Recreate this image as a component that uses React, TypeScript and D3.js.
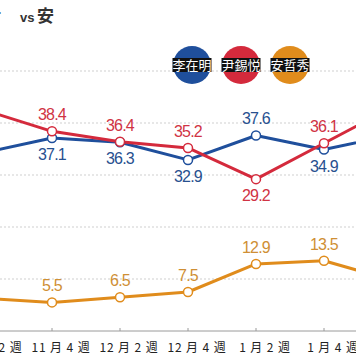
import React from "react";
import * as d3 from "d3";

const weeks = ["11 月 2 週", "11 月 4 週", "12 月 2 週", "12 月 4 週", "1 月 2 週", "1 月 4 週", "2 月 2 週"];
const leeValues = [34.3, 37.1, 36.3, 32.9, 37.6, 34.9, 37.7];
const yoonValues = [42.5, 38.4, 36.4, 35.2, 29.2, 36.1, 43.0];
const ahnValues = [6.3, 5.5, 6.5, 7.5, 12.9, 13.5, 9.8];
const gridValues = [10, 20, 30, 40, 50];
const legendNames = ["李在明", "尹錫悦", "安哲秀"];
// label placement: true = above the point
const leeAbove = [false, false, false, false, true, false, false];
const yoonAbove = [true, true, true, true, false, true, true];
const ahnAbove = [true, true, true, true, true, true, true];

const W = 356;
const H = 364;

const BLUE = "#1f4f9c";
const RED = "#d42a3c";
const ORANGE = "#e08c1c";

export default function App() {
  const x = d3.scalePoint<string>().domain(weeks).range([-16, 392]);
  const y = d3.scaleLinear().domain([0, 50]).range([331, 71]);

  const series = [
    { name: legendNames[0], values: leeValues, above: leeAbove, color: BLUE, label: "#27508f" },
    { name: legendNames[1], values: yoonValues, above: yoonAbove, color: RED, label: "#d03344" },
    { name: legendNames[2], values: ahnValues, above: ahnAbove, color: ORANGE, label: "#cf8f35" },
  ];

  const line = d3
    .line<number>()
    .x((_, i) => x(weeks[i]) as number)
    .y((d) => y(d));

  const legendX = [192, 241, 290];

  return (
    <svg
      width={W}
      height={H}
      style={{ position: "absolute", left: 0, top: 0, background: "#fff" }}
      fontFamily="'Noto Sans CJK KR', 'Noto Sans', sans-serif"
    >
      {/* title fragment */}
      <text y={22} fontSize={17} fontWeight="bold" fill="#333">
        <tspan x={1} textAnchor="end">尹</tspan>
        <tspan x={20} fontFamily="'Liberation Sans', sans-serif" fontSize={13}>vs</tspan>
        <tspan x={37}>安</tspan>
      </text>

      {/* gridlines */}
      {gridValues.map((g) => (
        <line
          key={g}
          x1={0}
          x2={W}
          y1={y(g)}
          y2={y(g)}
          stroke="#cfcfcf"
          strokeWidth={1}
          strokeDasharray="2,2"
        />
      ))}

      {/* legend */}
      {series.map((s, i) => (
        <g key={s.name} transform={`translate(${legendX[i]},65)`}>
          <circle r={19} fill={s.color} />
          <rect x={-19.5} y={-7} width={39} height={14} fill="#111" />
          <text
            textAnchor="middle"
            y={5}
            fontSize={13}
            fill="#fff"
            fontFamily="'Noto Sans CJK KR', sans-serif"
          >
            {s.name}
          </text>
        </g>
      ))}

      {/* axis */}
      <line x1={0} x2={W} y1={y(0)} y2={y(0)} stroke="#9a9a9a" strokeWidth={1} />
      {weeks.map((w) => (
        <g key={w}>
          <line
            x1={x(w) as number}
            x2={x(w) as number}
            y1={y(0)}
            y2={y(0) - 3}
            stroke="#9a9a9a"
            strokeWidth={1}
          />
          <text
            x={(x(w) as number) + 9}
            y={352}
            textAnchor="middle"
            fontSize={12}
            fill="#222"
            letterSpacing={0.9}
            fontFamily="'Noto Sans CJK JP', sans-serif"
          >
            {w}
          </text>
        </g>
      ))}

      {/* lines */}
      {series.map((s) => (
        <path
          key={s.name + "-line"}
          d={line(s.values) || ""}
          fill="none"
          stroke={s.color}
          strokeWidth={3}
          strokeLinejoin="round"
        />
      ))}

      {/* points + labels */}
      {series.map((s) =>
        s.values.map((v, i) => {
          const cx = x(weeks[i]) as number;
          const cy = y(v);
          return (
            <g key={s.name + i}>
              <circle cx={cx} cy={cy} r={4.5} fill="#fff" stroke={s.color} strokeWidth={1.5} />
              <text
                x={cx}
                y={s.above[i] ? cy - 11 : cy + 22}
                textAnchor="middle"
                fontSize={16}
                fill={s.label}
                fontFamily="'Liberation Sans', Arial, sans-serif"
                letterSpacing={-0.8}
              >
                {v.toFixed(1)}
              </text>
            </g>
          );
        })
      )}
    </svg>
  );
}
